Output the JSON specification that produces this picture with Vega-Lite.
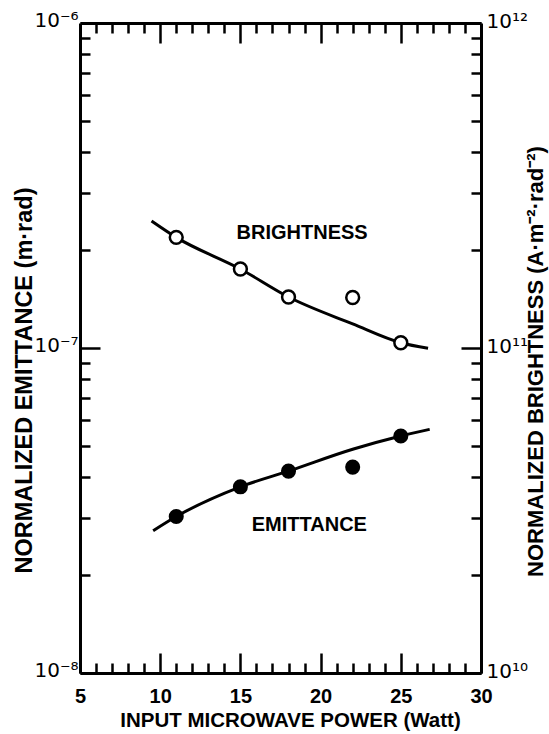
{
  "$schema": "https://vega.github.io/schema/vega-lite/v6.json",
  "width": 401,
  "height": 650,
  "autosize": "none",
  "padding": {"left": 80, "top": 23, "right": 68, "bottom": 61},
  "background": "white",
  "config": {
    "view": {"stroke": null},
    "font": "Liberation Sans",
    "axis": {
      "grid": false,
      "domainColor": "black",
      "domainWidth": 3,
      "tickColor": "black",
      "tickWidth": 2.5,
      "labelColor": "black",
      "titleColor": "black",
      "labelFont": "Liberation Sans",
      "titleFont": "Liberation Sans",
      "labelFontSize": 20,
      "labelFontWeight": "bold",
      "titleFontSize": 20.5,
      "titleFontWeight": "bold",
      "labelOverlap": false,
      "labelFlush": false
    }
  },
  "datasets": {
    "emCurve": [
      {"power": 9.56, "emittance": 2.74e-8},
      {"power": 11, "emittance": 3.03e-8},
      {"power": 15, "emittance": 3.74e-8},
      {"power": 18, "emittance": 4.18e-8},
      {"power": 22, "emittance": 4.88e-8},
      {"power": 25, "emittance": 5.36e-8},
      {"power": 26.8, "emittance": 5.62e-8}
    ],
    "emPoints": [
      {"power": 11, "emittance": 3.03e-8},
      {"power": 15, "emittance": 3.74e-8},
      {"power": 18, "emittance": 4.18e-8},
      {"power": 22, "emittance": 4.3e-8},
      {"power": 25, "emittance": 5.36e-8}
    ],
    "brCurve": [
      {"power": 9.46, "brightness": 2.46e11},
      {"power": 11, "brightness": 2.19e11},
      {"power": 15, "brightness": 1.75e11},
      {"power": 18, "brightness": 1.435e11},
      {"power": 22, "brightness": 1.186e11},
      {"power": 25, "brightness": 1.038e11},
      {"power": 26.7, "brightness": 0.998e11}
    ],
    "brPoints": [
      {"power": 11, "brightness": 2.19e11},
      {"power": 15, "brightness": 1.75e11},
      {"power": 18, "brightness": 1.435e11},
      {"power": 22, "brightness": 1.43e11},
      {"power": 25, "brightness": 1.038e11}
    ],
    "brLabel": [{"power": 18.85, "brightness": 2.26e11, "label": "BRIGHTNESS"}],
    "emLabel": [{"power": 19.3, "emittance": 2.85e-8, "label": "EMITTANCE"}]
  },
  "resolve": {
    "scale": {"y": "independent"},
    "axis": {"x": "independent", "y": "independent"}
  },
  "layer": [
    {
      "data": {"name": "emCurve"},
      "mark": {"type": "line", "interpolate": "monotone", "strokeWidth": 3, "color": "black"},
      "encoding": {
        "x": {
          "field": "power", "type": "quantitative",
          "scale": {"domain": [5, 30], "nice": false, "zero": false},
          "axis": {
            "orient": "bottom", "values": [5, 10, 15, 20, 25, 30], "format": "d",
            "tickSize": -20, "labelPadding": 33,
            "title": "INPUT MICROWAVE POWER (Watt)",
            "titleX": 210, "titleY": 47, "titleAlign": "center", "titleBaseline": "middle"
          }
        },
        "y": {
          "field": "emittance", "type": "quantitative",
          "scale": {"type": "log", "domain": [1e-8, 1e-6], "nice": false},
          "axis": {
            "orient": "left", "values": [1e-8, 1e-7, 1e-6],
            "labelExpr": "datum.value < 5e-8 ? '10⁻⁸' : datum.value < 5e-7 ? '10⁻⁷' : '10⁻⁶'",
            "labelFont": "DejaVu Sans", "labelFontWeight": "normal", "labelFontSize": 20,
            "tickSize": -20, "labelPadding": 22, "labelOffset": -3,
            "title": "NORMALIZED EMITTANCE (m·rad)",
            "titleFontSize": 23.5,
            "titleX": -56, "titleY": 357, "titleAngle": 270, "titleAlign": "center", "titleBaseline": "middle"
          }
        }
      }
    },
    {
      "data": {"name": "emPoints"},
      "mark": {"type": "point", "shape": "circle", "filled": true, "size": 227, "color": "black", "opacity": 1},
      "encoding": {
        "x": {
          "field": "power", "type": "quantitative",
          "scale": {"domain": [5, 30], "nice": false, "zero": false},
          "axis": {
            "orient": "bottom", "values": [6, 7, 8, 9, 11, 12, 13, 14, 16, 17, 18, 19, 21, 22, 23, 24, 26, 27, 28, 29],
            "tickSize": -10, "labels": false, "domain": false, "title": null
          }
        },
        "y": {
          "field": "emittance", "type": "quantitative",
          "scale": {"type": "log", "domain": [1e-8, 1e-6], "nice": false},
          "axis": {
            "orient": "left",
            "values": [2e-8, 3e-8, 4e-8, 5e-8, 6e-8, 7e-8, 8e-8, 9e-8, 2e-7, 3e-7, 4e-7, 5e-7, 6e-7, 7e-7, 8e-7, 9e-7],
            "tickSize": -10, "labels": false, "domain": false, "title": null
          }
        }
      }
    },
    {
      "data": {"name": "brCurve"},
      "mark": {"type": "line", "interpolate": "monotone", "strokeWidth": 3, "color": "black"},
      "encoding": {
        "x": {
          "field": "power", "type": "quantitative",
          "scale": {"domain": [5, 30], "nice": false, "zero": false},
          "axis": {
            "orient": "top", "values": [10, 15, 20, 25],
            "tickSize": -20, "labels": false, "title": null
          }
        },
        "y": {
          "field": "brightness", "type": "quantitative",
          "scale": {"type": "log", "domain": [1e10, 1e12], "nice": false},
          "axis": {
            "orient": "right", "values": [1e10, 1e11, 1e12],
            "labelExpr": "datum.value < 5e10 ? '10¹⁰' : datum.value < 5e11 ? '10¹¹' : '10¹²'",
            "labelFont": "DejaVu Sans", "labelFontWeight": "normal", "labelFontSize": 20,
            "tickSize": -20, "labelPadding": 25, "labelOffset": -2,
            "title": "NORMALIZED BRIGHTNESS (A·m⁻²·rad⁻²)",
            "titleFontSize": 22,
            "titleX": 54, "titleY": 338, "titleAngle": 270, "titleAlign": "center", "titleBaseline": "middle"
          }
        }
      }
    },
    {
      "data": {"name": "brPoints"},
      "mark": {"type": "point", "shape": "circle", "filled": false, "fill": "white", "fillOpacity": 1, "size": 165, "stroke": "black", "strokeWidth": 2.5, "opacity": 1},
      "encoding": {
        "x": {
          "field": "power", "type": "quantitative",
          "scale": {"domain": [5, 30], "nice": false, "zero": false},
          "axis": {
            "orient": "top", "values": [6, 7, 8, 9, 11, 12, 13, 14, 16, 17, 18, 19, 21, 22, 23, 24, 26, 27, 28, 29],
            "tickSize": -10, "labels": false, "domain": false, "title": null
          }
        },
        "y": {
          "field": "brightness", "type": "quantitative",
          "scale": {"type": "log", "domain": [1e10, 1e12], "nice": false},
          "axis": {
            "orient": "right",
            "values": [2e10, 3e10, 4e10, 5e10, 6e10, 7e10, 8e10, 9e10, 2e11, 3e11, 4e11, 5e11, 6e11, 7e11, 8e11, 9e11],
            "tickSize": -10, "labels": false, "domain": false, "title": null
          }
        }
      }
    },
    {
      "data": {"name": "brLabel"},
      "mark": {"type": "text", "fontSize": 20, "fontWeight": "bold", "font": "Liberation Sans", "color": "black", "align": "center", "baseline": "middle"},
      "encoding": {
        "x": {"field": "power", "type": "quantitative", "scale": {"domain": [5, 30], "nice": false, "zero": false}, "axis": null},
        "y": {"field": "brightness", "type": "quantitative", "scale": {"type": "log", "domain": [1e10, 1e12], "nice": false}, "axis": null},
        "text": {"field": "label"}
      }
    },
    {
      "data": {"name": "emLabel"},
      "mark": {"type": "text", "fontSize": 20, "fontWeight": "bold", "font": "Liberation Sans", "color": "black", "align": "center", "baseline": "middle"},
      "encoding": {
        "x": {"field": "power", "type": "quantitative", "scale": {"domain": [5, 30], "nice": false, "zero": false}, "axis": null},
        "y": {"field": "emittance", "type": "quantitative", "scale": {"type": "log", "domain": [1e-8, 1e-6], "nice": false}, "axis": null},
        "text": {"field": "label"}
      }
    }
  ]
}
